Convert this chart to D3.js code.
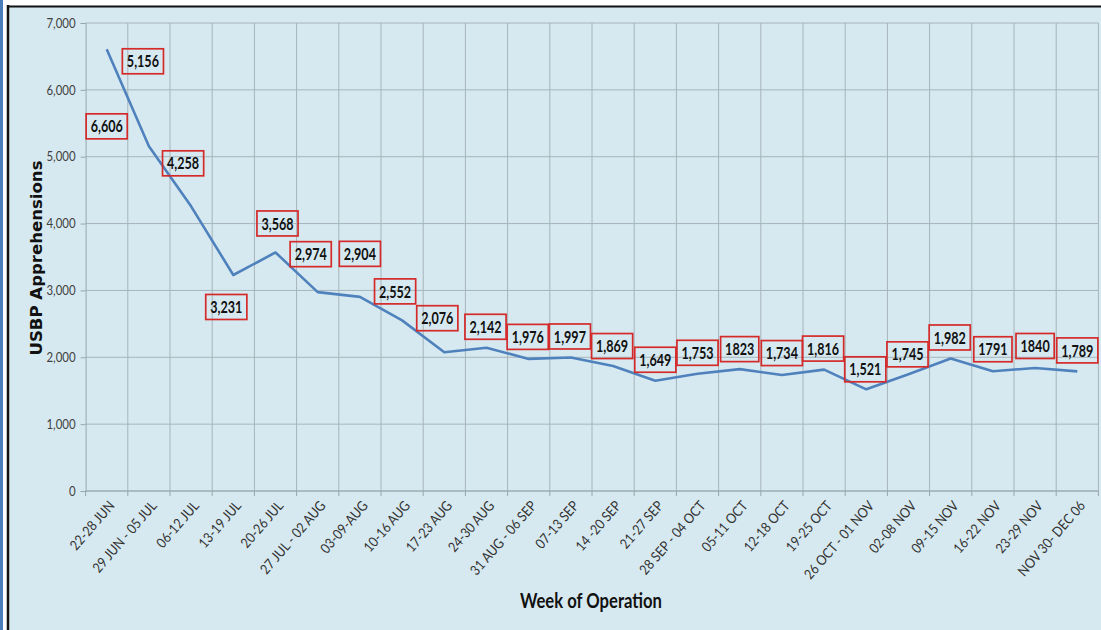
<!DOCTYPE html>
<html>
<head>
<meta charset="utf-8">
<script src="https://cdn.jsdelivr.net/npm/d3@7"></script>
<style>
  body { margin: 0; background: #fff; }
</style>
</head>
<body>
<div id="chart"></div>
<script>
// Weekly USBP apprehensions
const weeks = ["22-28 JUN", "29 JUN - 05 JUL", "06-12 JUL", "13-19 JUL", "20-26 JUL",
  "27 JUL - 02 AUG", "03-09-AUG", "10-16 AUG", "17-23 AUG", "24-30 AUG",
  "31 AUG - 06 SEP", "07-13 SEP", "14 -20 SEP", "21-27 SEP", "28 SEP - 04 OCT",
  "05-11 OCT", "12-18 OCT", "19-25 OCT", "26 OCT - 01 NOV", "02-08 NOV",
  "09-15 NOV", "16-22 NOV", "23-29 NOV", "NOV 30- DEC 06"];
const apprehensions = [6606, 5156, 4258, 3231, 3568, 2974, 2904, 2552, 2076, 2142,
  1976, 1997, 1869, 1649, 1753, 1823, 1734, 1816, 1521, 1745, 1982, 1791, 1840, 1789];
const valueLabels = ["6,606", "5,156", "4,258", "3,231", "3,568", "2,974", "2,904", "2,552",
  "2,076", "2,142", "1,976", "1,997", "1,869", "1,649", "1,753", "1823", "1,734", "1,816",
  "1,521", "1,745", "1,982", "1791", "1840", "1,789"];
const yTicks = [0, 1000, 2000, 3000, 4000, 5000, 6000, 7000];

// hand placement of the label boxes (px from the point)
const labelNudge = [[0, 77], [-6, -85], [-8, -43], [-7, 32], [2, -29], [-7, -38], [0, -43],
  [-7, -29], [-7, -34], [-1, -21], [-1, -22], [-1, -21], [-1, -20], [0, -21], [0, -21],
  [0, -20], [0, -22], [-1, -21], [-1, -20], [-1, -20], [-1, -21], [0, -22], [0, -22], [0, -21]];

const W = 1101, H = 630;
const FONT = "Lato, 'Noto Sans', sans-serif";

// the original is a bit squashed sideways, so text is narrowed
function squeeze(sel, f) {
  sel.each(function() {
    const w = this.getComputedTextLength();
    d3.select(this).attr("textLength", w * f).attr("lengthAdjust", "spacingAndGlyphs");
  });
}

const svg = d3.select("#chart").append("svg")
    .attr("width", W)
    .attr("height", H);

// frame
svg.append("rect").attr("x", 0).attr("y", 0).attr("width", 3).attr("height", H).attr("fill", "#4a7ebb");
svg.append("rect").attr("x", 8).attr("y", 6).attr("width", W - 8).attr("height", H - 6)
    .attr("fill", "#d7e9f0");
svg.append("line").attr("x1", 8).attr("x2", 8).attr("y1", 5).attr("y2", H)
    .attr("stroke", "#111").attr("stroke-width", 2.5);
svg.append("line").attr("x1", 7).attr("x2", W).attr("y1", 6.5).attr("y2", 6.5)
    .attr("stroke", "#111").attr("stroke-width", 2);

const x = d3.scaleBand().domain(weeks).range([85.6, 1098.4]).padding(0);
const y = d3.scaleLinear().domain([0, 7000]).range([491, 23]);
const cx = d => x(d) + x.bandwidth() / 2;

// gridlines
svg.append("g").selectAll("line")
    .data(yTicks)
  .enter().append("line")
    .attr("x1", x.range()[0]).attr("x2", x.range()[1])
    .attr("y1", d => y(d)).attr("y2", d => y(d))
    .attr("stroke", "#a6b4ba").attr("stroke-width", 1);

svg.append("g").selectAll("line")
    .data(d3.range(1, weeks.length + 1))
  .enter().append("line")
    .attr("x1", i => x.range()[0] + i * x.bandwidth())
    .attr("x2", i => x.range()[0] + i * x.bandwidth())
    .attr("y1", y(7000)).attr("y2", y(0))
    .attr("stroke", "#a6b4ba").attr("stroke-width", 1);

// y axis
const yAxis = svg.append("g")
    .attr("transform", "translate(" + x.range()[0] + ",0)")
    .call(d3.axisLeft(y).tickValues(yTicks).tickFormat(d3.format(",")).tickSize(5).tickPadding(5));
yAxis.selectAll("line, path").attr("stroke", "#98a6ad");
yAxis.selectAll("text")
    .attr("fill", "#404040")
    .style("font-family", FONT)
    .style("font-size", "13px")
    .call(squeeze, 0.88);

// x axis, ticks on category boundaries
const xAxis = svg.append("g")
    .attr("transform", "translate(0," + y(0) + ")");
xAxis.append("line")
    .attr("x1", x.range()[0]).attr("x2", x.range()[1])
    .attr("stroke", "#98a6ad");
xAxis.selectAll("line.tk")
    .data(d3.range(weeks.length + 1))
  .enter().append("line")
    .attr("class", "tk")
    .attr("x1", i => x.range()[0] + i * x.bandwidth())
    .attr("x2", i => x.range()[0] + i * x.bandwidth())
    .attr("y1", 0).attr("y2", 5)
    .attr("stroke", "#98a6ad");
xAxis.selectAll("text")
    .data(weeks)
  .enter().append("text")
    .attr("transform", d => "translate(" + (cx(d) + 5) + ",12) rotate(-49)")
    .attr("text-anchor", "end")
    .attr("dy", "0.35em")
    .style("font-family", FONT)
    .style("font-size", "14px")
    .attr("fill", "#333")
    .text(d => d)
    .call(squeeze, 0.88);

// line
svg.append("path")
    .datum(apprehensions)
    .attr("fill", "none")
    .attr("stroke", "#4f81bd")
    .attr("stroke-width", 2.6)
    .attr("stroke-linejoin", "round")
    .attr("d", d3.line()
        .x((d, i) => cx(weeks[i]))
        .y(d => y(d)));

// data labels
const lab = svg.append("g").selectAll("g")
    .data(apprehensions)
  .enter().append("g")
    .attr("transform", (d, i) => "translate(" + (cx(weeks[i]) + labelNudge[i][0]) + "," + (y(d) + labelNudge[i][1]) + ")");
lab.append("text")
    .attr("text-anchor", "middle")
    .attr("dy", "0.36em")
    .style("font-family", FONT)
    .style("font-weight", "bold")
    .style("font-size", "17px")
    .attr("fill", "#111")
    .text((d, i) => valueLabels[i])
    .call(squeeze, 0.74);
lab.each(function() {
  const g = d3.select(this);
  const tw = +g.select("text").attr("textLength");
  g.insert("rect", "text")
      .attr("x", -tw / 2 - 4.5)
      .attr("y", -12.5)
      .attr("width", tw + 9)
      .attr("height", 25)
      .attr("fill", "none")
      .attr("stroke", "#d42a2a")
      .attr("stroke-width", 1.7);
});

// axis titles
svg.append("text")
    .attr("transform", "translate(42,258) rotate(-90)")
    .attr("text-anchor", "middle")
    .style("font-family", "'DejaVu Sans', sans-serif")
    .style("font-weight", "bold")
    .style("font-size", "16.5px")
    .attr("fill", "#111")
    .attr("textLength", 195)
    .attr("lengthAdjust", "spacingAndGlyphs")
    .text("USBP Apprehensions");

svg.append("text")
    .attr("x", 591)
    .attr("y", 608)
    .attr("text-anchor", "middle")
    .style("font-family", FONT)
    .style("font-weight", "bold")
    .style("font-size", "20px")
    .attr("fill", "#111")
    .attr("textLength", 142)
    .attr("lengthAdjust", "spacingAndGlyphs")
    .text("Week of Operation");
</script>
</body>
</html>
